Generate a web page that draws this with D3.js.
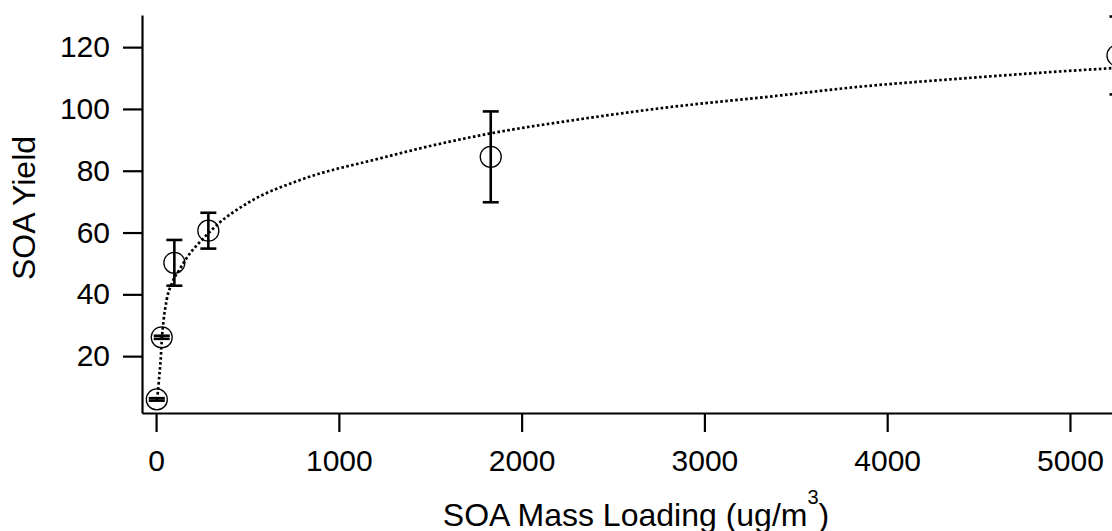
<!DOCTYPE html>
<html lang="en">
<script type="text/javascript" src="https://d3js.org/d3.v7.min.js" charset="utf-8"></script>

<head>
  <meta charset="utf-8">
  <title>SOA Yield vs Mass Loading</title>
</head>

<body style="background-color: white; margin: 0; overflow: hidden;">
  <svg id="chart" width="1112" height="531"></svg>
</body>

<script type="text/javascript">
  // measured points (SOA mass loading, yield, error)
  var loading = [4, 31, 100, 286, 1831, 5260];
  var yieldVals = [6.0, 26.1, 50.2, 60.6, 84.5, 117.3];
  var yieldErr = [0.4, 0.5, 7.4, 5.8, 14.7, 12.6];

  // fit curve
  var fitX = [5, 10, 18, 25, 31, 41, 58, 86, 131, 186, 241, 332, 514, 788, 1225, 1499, 1831, 2265, 2812, 3359, 3851, 4398, 4836, 5260];
  var fitY = [6, 8.5, 13.9, 18.7, 25.0, 31.5, 38.2, 43.5, 48.3, 53.3, 57, 62.4, 70, 77, 84, 88, 92.1, 96.2, 100.6, 104, 107.2, 109.8, 111.7, 113.3];

  var xTicks = [0, 1000, 2000, 3000, 4000, 5000];
  var yTicks = [20, 40, 60, 80, 100, 120];

  var svg = d3.select("#chart"),
    plotLeft = 142, plotRight = 1112, plotTop = 15, plotBottom = 413;

  var xScale = d3.scaleLinear().domain([-77, 5230]).range([plotLeft, plotRight]),
      yScale = d3.scaleLinear().domain([1.6, 130.4]).range([plotBottom, plotTop]);

  var font = "'Liberation Sans', Arial, sans-serif";

  var xAxis = svg.append("g")
     .attr("transform", "translate(0," + plotBottom + ")")
     .call(d3.axisBottom(xScale).tickValues(xTicks).tickFormat(d3.format("d"))
       .tickSize(19).tickPadding(18).tickSizeOuter(0));

  var yAxis = svg.append("g")
     .attr("transform", "translate(" + plotLeft + ",0)")
     .call(d3.axisLeft(yScale).tickValues(yTicks).tickFormat(d3.format("d"))
       .tickSize(19).tickPadding(13).tickSizeOuter(0));

  [xAxis, yAxis].forEach(function(ax) {
    ax.select(".domain").attr("stroke", "#000").attr("stroke-width", 2.2);
    ax.selectAll(".tick line").attr("stroke", "#000").attr("stroke-width", 2.2);
    ax.selectAll(".tick text")
      .attr("fill", "#000")
      .style("font-family", font)
      .style("font-size", "30px");
  });

  // dotted fit line
  var line = d3.line()
     .x(function(d, i) { return xScale(fitX[i]); })
     .y(function(d, i) { return yScale(fitY[i]); })
     .curve(d3.curveMonotoneX);

  svg.append("path")
     .datum(fitX)
     .attr("d", line)
     .attr("fill", "none")
     .attr("stroke", "#000")
     .attr("stroke-width", 2.7)
     .attr("stroke-dasharray", "2.6,2.4");

  var pts = svg.selectAll(".pt")
     .data(loading)
     .enter().append("g")
     .attr("class", "pt");

  // error bars
  pts.append("line")
     .attr("x1", function(d) { return xScale(d); })
     .attr("x2", function(d) { return xScale(d); })
     .attr("y1", function(d, i) { return yScale(yieldVals[i] + yieldErr[i]); })
     .attr("y2", function(d, i) { return yScale(yieldVals[i] - yieldErr[i]); })
     .attr("stroke", "#000")
     .attr("stroke-width", 2.6);

  [1, -1].forEach(function(s) {
    pts.append("line")
       .attr("x1", function(d) { return xScale(d) - 8; })
       .attr("x2", function(d) { return xScale(d) + 8; })
       .attr("y1", function(d, i) { return yScale(yieldVals[i] + s * yieldErr[i]); })
       .attr("y2", function(d, i) { return yScale(yieldVals[i] + s * yieldErr[i]); })
       .attr("stroke", "#000")
       .attr("stroke-width", 2.6);
  });

  pts.append("circle")
     .attr("cx", function(d) { return xScale(d); })
     .attr("cy", function(d, i) { return yScale(yieldVals[i]); })
     .attr("r", 10.5)
     .attr("fill", "none")
     .attr("stroke", "#000")
     .attr("stroke-width", 1.3);

  // axis titles
  var xt = svg.append("text")
     .attr("x", 636)
     .attr("y", 526)
     .attr("text-anchor", "middle")
     .style("font-family", font)
     .style("font-size", "32px");
  xt.append("tspan").text("SOA Mass Loading (ug/m");
  xt.append("tspan").attr("dy", -22).style("font-size", "20px").text("3");
  xt.append("tspan").attr("dy", 22).text(")");

  svg.append("text")
     .attr("transform", "translate(35,208) rotate(-90)")
     .attr("text-anchor", "middle")
     .style("font-family", font)
     .style("font-size", "32px")
     .text("SOA Yield");
</script>

</html>
